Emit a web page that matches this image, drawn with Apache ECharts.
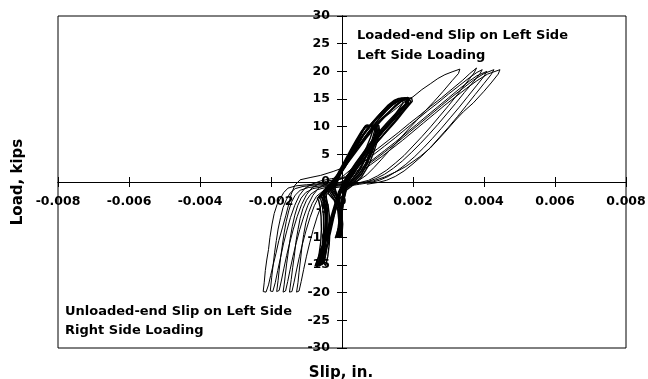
<!DOCTYPE html>
<html>
<head>
<meta charset="utf-8">
<script src="https://cdn.jsdelivr.net/npm/echarts@6/dist/echarts.min.js"></script>
<style>
  html, body { margin: 0; padding: 0; background: #fff; }
  #chart { width: 648px; height: 379px; }
</style>
</head>
<body>
<div id="chart"></div>
<script>
// x tick labels (slip, in.) and y ticks (load, kips)
const slipTicks = [-0.008, -0.006, -0.004, -0.002, 0, 0.002, 0.004, 0.006, 0.008];
const loadTicks = [-30, -25, -20, -15, -10, -5, 0, 5, 10, 15, 20, 25, 30];

// big cycles to +/-20 kips  [slip, load]
const cycleA = [
  [0.0002,-0.2],[-0.0002,-0.4],[-0.0006,-0.3],[-0.0010,-0.5],[-0.0013,-0.7],[-0.00152,-1.1],[-0.00164,-1.9],[-0.00172,-2.8],[-0.00183,-4.1],[-0.00191,-5.7],[-0.00197,-7.6],[-0.00203,-10.0],[-0.00207,-12.2],[-0.00212,-14.1],[-0.00216,-16.0],[-0.00219,-18.1],[-0.00222,-19.8],
  [-0.00214,-19.9],[-0.00207,-18.6],[-0.00201,-16.9],[-0.00194,-15.0],[-0.00186,-12.9],[-0.00178,-10.6],[-0.00168,-8.3],[-0.00158,-6.0],[-0.00150,-4.0],[-0.00143,-2.2],[-0.00133,-0.6],[-0.00118,0.4],[-0.00090,0.8],[-0.00060,1.2],[-0.00025,1.9],[0,2.5],
  [0.00012,3.6],[0.0003,4.9],[0.0005,6.6],[0.0007,8.3],[0.00095,10.1],[0.0012,11.7],[0.00145,12.9],[0.0017,14.2],[0.002,15.4],[0.00225,16.7],[0.0025,17.8],[0.0027,18.7],[0.0029,19.4],[0.0031,19.9],[0.00332,20.4],
  [0.00328,19.6],[0.0031,18.3],[0.00285,16.4],[0.0026,14.6],[0.00235,12.9],[0.0021,11.1],[0.00185,9.4],[0.0016,7.6],[0.00135,5.8],[0.0011,4.0],[0.0009,2.6],[0.0007,1.3],[0.0005,0.4],[0.0003,-0.1],[0.0001,-0.3]
];
const cycleB = [
  [0.0001,-0.3],[-0.0003,-0.5],[-0.0007,-0.5],[-0.0011,-0.8],[-0.00132,-1.2],[-0.00146,-2.0],[-0.00156,-3.1],[-0.00166,-4.6],[-0.00173,-6.4],[-0.0018,-8.5],[-0.00185,-10.6],[-0.0019,-12.8],[-0.00194,-15.0],[-0.00198,-17.2],[-0.00202,-19.7],
  [-0.00195,-19.8],[-0.00188,-18.2],[-0.00181,-16.0],[-0.00173,-13.6],[-0.00165,-11.2],[-0.00155,-8.7],[-0.00145,-6.4],[-0.00133,-4.2],[-0.0012,-2.4],[-0.00104,-1.1],[-0.00085,-0.4],[-0.0006,0.2],[-0.0003,0.6],[0,0.9],
  [0.0002,2.0],[0.0004,3.1],[0.0007,4.6],[0.001,6.0],[0.0013,7.5],[0.0016,9.0],[0.0019,10.6],[0.0022,12.1],[0.0025,13.7],[0.0028,15.2],[0.0031,16.8],[0.0034,18.4],[0.0036,19.6],[0.00379,20.6],
  [0.00372,19.7],[0.0035,17.9],[0.00325,15.8],[0.003,13.8],[0.00275,11.9],[0.0025,10.0],[0.00225,8.2],[0.002,6.5],[0.00175,4.8],[0.0015,3.4],[0.00125,2.1],[0.001,1.1],[0.00075,0.3],[0.0005,-0.1],[0.0002,-0.3]
];
const cycleC = [
  [0.0002,-0.3],[-0.0002,-0.6],[-0.0006,-0.7],[-0.00095,-1.0],[-0.00118,-1.5],[-0.00132,-2.4],[-0.00142,-3.6],[-0.0015,-5.2],[-0.00157,-7.1],[-0.00163,-9.2],[-0.00168,-11.4],[-0.00173,-13.7],[-0.00177,-15.9],[-0.0018,-17.8],[-0.00184,-19.8],
  [-0.00177,-19.6],[-0.00171,-17.9],[-0.00164,-15.7],[-0.00156,-13.3],[-0.00147,-10.9],[-0.00137,-8.5],[-0.00126,-6.2],[-0.00114,-4.1],[-0.001,-2.3],[-0.00084,-1.0],[-0.00064,-0.3],[-0.0004,0.2],[-0.0001,0.5],[0.0001,1.0],
  [0.0003,2.2],[0.0006,3.6],[0.0009,5.0],[0.0012,6.5],[0.0015,8.0],[0.0018,9.6],[0.0021,11.2],[0.0024,12.8],[0.0027,14.3],[0.003,15.9],[0.0033,17.4],[0.0036,18.9],[0.0038,19.8],[0.00395,20.3],
  [0.00388,19.5],[0.0037,18.1],[0.00345,16.2],[0.0032,14.2],[0.00295,12.3],[0.0027,10.4],[0.00245,8.6],[0.0022,6.9],[0.00195,5.3],[0.0017,3.8],[0.00145,2.5],[0.0012,1.4],[0.00095,0.6],[0.0007,0.0],[0.0004,-0.3]
];
const cycleD = [
  [0.0003,-0.4],[-0.0001,-0.6],[-0.0005,-0.8],[-0.00082,-1.2],[-0.00102,-1.9],[-0.00115,-2.9],[-0.00125,-4.3],[-0.00133,-6.0],[-0.0014,-8.0],[-0.00146,-10.2],[-0.00151,-12.5],[-0.00156,-14.8],[-0.0016,-17.0],[-0.00163,-18.6],[-0.00166,-19.9],
  [-0.00159,-19.7],[-0.00153,-18.0],[-0.00146,-15.8],[-0.00138,-13.4],[-0.00129,-11.0],[-0.00119,-8.6],[-0.00108,-6.3],[-0.00096,-4.2],[-0.00082,-2.4],[-0.00066,-1.1],[-0.00046,-0.3],[-0.0002,0.3],[0.0001,0.8],[0.0003,1.5],
  [0.0006,2.8],[0.0009,4.2],[0.0012,5.7],[0.0015,7.2],[0.0018,8.8],[0.0021,10.4],[0.0024,12.0],[0.0027,13.6],[0.003,15.2],[0.0033,16.8],[0.0036,18.3],[0.0038,19.2],[0.00408,20.0],
  [0.004,19.1],[0.0038,17.5],[0.00355,15.5],[0.0033,13.5],[0.00305,11.6],[0.0028,9.7],[0.00255,7.9],[0.0023,6.2],[0.00205,4.6],[0.0018,3.2],[0.00155,2.0],[0.0013,1.0],[0.00105,0.3],[0.0008,-0.1],[0.0005,-0.4]
];
const cycleE = [
  [0.0004,-0.4],[0.0,-0.7],[-0.0004,-0.9],[-0.0007,-1.4],[-0.00088,-2.2],[-0.001,-3.3],[-0.0011,-4.8],[-0.00118,-6.6],[-0.00124,-8.6],[-0.0013,-10.9],[-0.00134,-13.2],[-0.00139,-15.5],[-0.00143,-17.6],[-0.00146,-19.0],[-0.00148,-19.9],
  [-0.00141,-19.8],[-0.00135,-18.1],[-0.00128,-15.9],[-0.0012,-13.5],[-0.00111,-11.1],[-0.00101,-8.7],[-0.0009,-6.4],[-0.00078,-4.3],[-0.00064,-2.5],[-0.00048,-1.2],[-0.0003,-0.3],[-0.0001,0.4],[0.0002,1.0],[0.0004,1.7],
  [0.0007,3.0],[0.001,4.4],[0.0013,5.9],[0.0016,7.4],[0.0019,9.0],[0.0022,10.6],[0.0025,12.2],[0.0028,13.8],[0.0031,15.4],[0.0034,16.9],[0.0037,18.4],[0.004,19.6],[0.00428,20.3],
  [0.0042,19.4],[0.004,17.8],[0.00375,15.8],[0.0035,13.8],[0.00325,11.8],[0.003,9.9],[0.00275,8.1],[0.0025,6.3],[0.00225,4.7],[0.002,3.3],[0.00175,2.0],[0.0015,1.0],[0.00125,0.3],[0.001,-0.1],[0.0007,-0.4]
];
const cycleF = [
  [0.0005,-0.4],[0.0001,-0.8],[-0.0003,-1.1],[-0.00055,-1.7],[-0.00072,-2.6],[-0.00084,-3.9],[-0.00094,-5.5],[-0.00102,-7.4],[-0.00108,-9.5],[-0.00113,-11.8],[-0.00117,-14.1],[-0.00121,-16.3],[-0.00124,-18.2],[-0.00128,-19.9],
  [-0.00121,-19.7],[-0.00115,-18.0],[-0.00108,-15.8],[-0.001,-13.4],[-0.00091,-11.0],[-0.00081,-8.6],[-0.0007,-6.3],[-0.00058,-4.2],[-0.00044,-2.4],[-0.00028,-1.1],[-0.0001,-0.2],[0.0001,0.4],[0.0003,1.0],[0.0005,1.8],
  [0.0008,3.1],[0.0011,4.5],[0.0014,6.0],[0.0017,7.5],[0.002,9.1],[0.0023,10.7],[0.0026,12.3],[0.0029,13.9],[0.0032,15.4],[0.0035,16.9],[0.0038,18.3],[0.0041,19.5],[0.00445,20.3],
  [0.0044,19.5],[0.0042,17.9],[0.004,16.4],[0.0037,14.3],[0.00342,12.7],[0.0032,11.2],[0.0029,9.0],[0.0027,7.6],[0.00248,6.1],[0.0022,4.6],[0.002,3.7],[0.0018,2.8],[0.00154,1.9],[0.0012,0.9],[0.00088,0.2],[0.0005,-0.2],[0.0001,-0.4]
];

// cycles to +/-15 kips
const c15a = [
  [-0.0006,-2.6],[-0.0004,-1.1],[-0.0002,0.4],[0,2.0],[0.0002,4.3],[0.0004,6.2],[0.0006,8.5],[0.0008,10.0],[0.001,11.6],[0.0012,12.8],[0.0014,14.1],[0.0016,14.7],[0.00175,15.2],[0.0019,15.0],
  [0.00194,14.5],[0.0017,12.7],[0.0015,11.1],[0.00135,9.9],[0.00115,8.4],[0.00098,7.2],[0.0008,5.9],[0.0006,4.1],[0.0004,2.5],[0.0002,0.6],[0,-1.1],[-0.0001,-2.6],[-0.0002,-4.4],[-0.0003,-6.9],[-0.0004,-9.0],[-0.0005,-11.4],[-0.0006,-13.1],[-0.00068,-14.9],
  [-0.0006,-14.8],[-0.00055,-13.0],[-0.0005,-11.0],[-0.00047,-8.6],[-0.00047,-6.1],[-0.0005,-4.1],[-0.00056,-2.9],[-0.0006,-2.6]
];
const c15b = [
  [-0.00055,-2.4],[-0.00035,-0.8],[-0.00015,0.8],[0.00003,2.5],[0.00022,4.6],[0.00042,6.7],[0.0006,8.6],[0.00078,10.2],[0.00096,11.5],[0.00115,12.9],[0.0013,13.9],[0.00148,14.8],[0.0016,15.1],[0.00178,15.2],
  [0.00182,14.4],[0.0016,12.5],[0.0014,10.8],[0.00122,9.6],[0.00104,8.1],[0.00088,6.9],[0.0007,5.4],[0.00052,3.8],[0.00034,2.1],[0.00016,0.4],[-0.00002,-1.3],[-0.00012,-2.9],[-0.0002,-4.9],[-0.00028,-7.2],[-0.00036,-9.5],[-0.00044,-11.6],[-0.00052,-13.5],[-0.00058,-15.0],
  [-0.0005,-14.6],[-0.00045,-12.7],[-0.00041,-10.6],[-0.00039,-8.2],[-0.0004,-5.8],[-0.00044,-3.9],[-0.0005,-2.8],[-0.00055,-2.4]
];
const c15c = [
  [-0.00065,-2.8],[-0.00045,-1.3],[-0.00024,0.2],[-0.00004,1.8],[0.00016,4.0],[0.00036,6.0],[0.00056,8.2],[0.00076,9.8],[0.00096,11.3],[0.00118,12.7],[0.0014,13.9],[0.0016,14.6],[0.0018,15.1],[0.00196,15.2],
  [0.00198,14.6],[0.00176,12.9],[0.00156,11.3],[0.0014,10.1],[0.0012,8.7],[0.00102,7.5],[0.00084,6.1],[0.00064,4.4],[0.00044,2.7],[0.00024,0.9],[0.00004,-0.8],[-0.00008,-2.4],[-0.00019,-4.3],[-0.0003,-6.5],[-0.00042,-8.8],[-0.00054,-11.1],[-0.00064,-13.2],[-0.00074,-15.0],
  [-0.00066,-14.9],[-0.0006,-13.1],[-0.00055,-11.2],[-0.00052,-8.8],[-0.00052,-6.3],[-0.00055,-4.3],[-0.0006,-3.1],[-0.00065,-2.8]
];
const c15d = [
  [-0.0005,-2.2],[-0.0003,-0.7],[-0.0001,0.9],[0.00008,2.6],[0.00026,4.7],[0.00046,6.9],[0.00064,8.8],[0.00082,10.4],[0.001,11.8],[0.0012,13.1],[0.00138,14.2],[0.00155,14.9],[0.0017,15.2],
  [0.00172,14.3],[0.00152,12.4],[0.00132,10.6],[0.00114,9.3],[0.00096,7.9],[0.0008,6.6],[0.00062,5.0],[0.00044,3.3],[0.00026,1.6],[0.0001,-0.1],[-0.00004,-1.9],[-0.00013,-3.8],[-0.00022,-6.1],[-0.0003,-8.4],[-0.00038,-10.7],[-0.00046,-12.9],[-0.00052,-14.6],[-0.00046,-15.1],
  [-0.0004,-13.4],[-0.00036,-11.3],[-0.00034,-8.9],[-0.00035,-6.4],[-0.00039,-4.3],[-0.00045,-2.9],[-0.0005,-2.2]
];
const c15e = [
  [-0.0007,-3.0],[-0.0005,-1.5],[-0.0003,0.0],[-0.0001,1.6],[0.0001,3.6],[0.0003,5.7],[0.0005,7.8],[0.0007,9.6],[0.0009,11.1],[0.0011,12.5],[0.0013,13.7],[0.0015,14.5],[0.00168,15.0],[0.00186,15.3],
  [0.00188,14.2],[0.00166,12.4],[0.00146,10.7],[0.00128,9.5],[0.0011,8.0],[0.00092,6.7],[0.00074,5.2],[0.00056,3.6],[0.00038,2.0],[0.0002,0.3],[0.0,-1.4],[-0.00011,-3.1],[-0.00022,-5.1],[-0.00034,-7.4],[-0.00046,-9.8],[-0.00058,-12.0],[-0.00068,-13.9],[-0.00076,-15.2],
  [-0.0007,-14.7],[-0.00064,-12.8],[-0.0006,-10.9],[-0.00058,-8.5],[-0.00059,-6.2],[-0.00062,-4.4],[-0.00066,-3.3],[-0.0007,-3.0]
];
const c15f = [
  [-0.00058,-2.5],[-0.00038,-1.0],[-0.00018,0.5],[0.00002,2.2],[0.00024,4.1],[0.00046,6.0],[0.00068,7.9],[0.0009,9.6],[0.00112,11.2],[0.00132,12.6],[0.0015,13.8],[0.00166,14.6],[0.00184,15.1],
  [0.00186,14.3],[0.00166,12.9],[0.00146,11.5],[0.00128,10.2],[0.0011,8.9],[0.00092,7.6],[0.00074,6.1],[0.00056,4.6],[0.00038,3.0],[0.0002,1.3],[0.00004,-0.4],[-0.00008,-2.2],[-0.00018,-4.2],[-0.00029,-6.6],[-0.0004,-9.0],[-0.0005,-11.2],[-0.00059,-13.1],[-0.00066,-15.0],
  [-0.00058,-14.7],[-0.00052,-12.8],[-0.00047,-10.8],[-0.00044,-8.4],[-0.00045,-6.0],[-0.0005,-4.0],[-0.00055,-2.9],[-0.00058,-2.5]
];
const c15g = [
  [-0.00062,-2.7],[-0.00042,-1.2],[-0.00022,0.3],[-0.00002,1.9],[0.00018,3.9],[0.0004,5.9],[0.00062,7.9],[0.00084,9.8],[0.00104,11.4],[0.00124,12.8],[0.00144,14.0],[0.00162,14.8],[0.0018,15.2],
  [0.0019,14.8],[0.00174,13.4],[0.00154,11.8],[0.00134,10.4],[0.00116,9.1],[0.00098,7.8],[0.0008,6.3],[0.0006,4.6],[0.0004,2.9],[0.00022,1.1],[0.00006,-0.6],[-0.00006,-2.5],[-0.00016,-4.6],[-0.00027,-6.9],[-0.00038,-9.2],[-0.00049,-11.6],[-0.00058,-13.6],[-0.00062,-15.1],
  [-0.00054,-14.5],[-0.00049,-12.5],[-0.00044,-10.4],[-0.00042,-8.0],[-0.00043,-5.6],[-0.00048,-3.8],[-0.00055,-2.9],[-0.00062,-2.7]
];
const c15h = [
  [-0.00052,-2.3],[-0.00032,-0.8],[-0.00012,0.8],[0.00006,2.5],[0.00026,4.5],[0.00048,6.6],[0.00068,8.4],[0.00088,10.1],[0.00108,11.7],[0.00126,13.0],[0.00144,14.0],[0.0016,14.7],[0.00176,15.0],
  [0.0018,14.1],[0.00162,12.6],[0.00142,11.0],[0.00124,9.8],[0.00106,8.5],[0.00088,7.1],[0.0007,5.6],[0.00052,4.0],[0.00034,2.3],[0.00016,0.6],[0.0,-1.2],[-0.0001,-3.0],[-0.0002,-5.0],[-0.0003,-7.3],[-0.00041,-9.6],[-0.00052,-11.9],[-0.0006,-13.8],[-0.00066,-15.2],
  [-0.00058,-14.9],[-0.00052,-13.0],[-0.00048,-10.9],[-0.00046,-8.6],[-0.00046,-6.2],[-0.00049,-4.2],[-0.00052,-2.3]
];
const c15i = [
  [-0.0005,-2.4],[-0.0003,-0.6],[-0.0001,1.1],[0.0001,3.0],[0.0003,4.9],[0.0005,6.7],[0.0007,8.3],[0.0009,9.8],[0.0011,11.1],[0.0013,12.4],[0.0015,13.6],[0.00168,14.6],[0.00184,15.1],
  [0.0018,14.2],[0.00164,13.2],[0.00146,12.0],[0.00128,10.8],[0.0011,9.5],[0.00092,8.1],[0.00074,6.6],[0.00056,5.0],[0.00038,3.4],[0.0002,1.7],[0.00004,0.0],[-0.0001,-1.8],[-0.0002,-3.9],[-0.00032,-6.5],[-0.00044,-9.3],[-0.00055,-12.0],[-0.00064,-14.2],[-0.0007,-15.1],
  [-0.00062,-14.4],[-0.00056,-12.2],[-0.0005,-9.8],[-0.00047,-7.2],[-0.00047,-4.8],[-0.0005,-2.4]
];
const c15j = [
  [-0.00045,-2.0],[-0.00026,-0.3],[-0.00006,1.5],[0.00014,3.4],[0.00034,5.3],[0.00054,7.1],[0.00074,8.8],[0.00094,10.3],[0.00114,11.6],[0.00134,12.8],[0.00152,13.9],[0.0017,14.8],[0.00188,15.2],
  [0.00186,14.5],[0.0017,13.4],[0.00152,12.1],[0.00134,10.9],[0.00116,9.7],[0.00098,8.4],[0.0008,7.0],[0.00062,5.4],[0.00044,3.8],[0.00026,2.1],[0.0001,0.4],[-0.00005,-1.4],[-0.00016,-3.5],[-0.00027,-6.0],[-0.00038,-8.7],[-0.00049,-11.4],[-0.00058,-13.8],[-0.00064,-15.0],
  [-0.00056,-14.2],[-0.00051,-12.0],[-0.00046,-9.5],[-0.00043,-7.0],[-0.00042,-4.5],[-0.00045,-2.0]
];

// cycles to +/-10 kips
const c10a = [
  [-0.0003,-1.5],[-0.00015,0.5],[0,2.5],[0.00015,4.3],[0.0003,6.1],[0.00045,7.8],[0.0006,9.4],[0.00068,10.1],[0.00082,10.2],[0.00098,10.1],
  [0.001,9.2],[0.00095,7.8],[0.00085,5.8],[0.0007,3.2],[0.00052,1.2],[0.0003,-0.2],[0.0001,-1.2],[0.00002,-3.5],[-0.00003,-6.0],[-0.00008,-8.5],[-0.00012,-10.0],
  [-0.00005,-9.6],[-0.00003,-7.5],[-0.00007,-5.0],[-0.00015,-3.2],[-0.0003,-1.5]
];
const c10b = [
  [-0.00025,-1.2],[-0.0001,0.8],[0.00004,2.8],[0.00018,4.6],[0.00033,6.4],[0.00048,8.1],[0.00062,9.7],[0.0007,10.3],[0.00088,10.1],[0.00104,10.2],
  [0.00106,9.0],[0.001,7.5],[0.0009,5.5],[0.00075,3.0],[0.00056,1.0],[0.00034,-0.4],[0.00012,-1.5],[0.00003,-3.8],[-0.00002,-6.3],[-0.00006,-8.7],[-0.00009,-10.1],
  [-0.00002,-9.5],[0.0,-7.2],[-0.00004,-4.8],[-0.00012,-2.9],[-0.00025,-1.2]
];
const c10c = [
  [-0.00035,-1.8],[-0.0002,0.2],[-0.00004,2.2],[0.00012,4.1],[0.00027,5.9],[0.00042,7.6],[0.00056,9.1],[0.00065,9.9],[0.00078,10.2],[0.00094,10.0],
  [0.00096,9.1],[0.0009,7.6],[0.0008,5.6],[0.00066,3.3],[0.00048,1.4],[0.00026,0.0],[0.00006,-1.0],[-0.00001,-3.2],[-0.00006,-5.8],[-0.00011,-8.3],[-0.00016,-9.9],
  [-0.00009,-9.7],[-0.00006,-7.7],[-0.0001,-5.2],[-0.00019,-3.4],[-0.00035,-1.8]
];
const c10d = [
  [-0.0002,-1.0],[-0.00006,1.1],[0.00008,3.0],[0.00022,4.8],[0.00036,6.6],[0.0005,8.3],[0.00064,9.9],[0.00074,10.1],[0.0009,10.3],
  [0.00092,9.3],[0.00086,7.9],[0.00076,6.0],[0.00062,3.6],[0.00045,1.6],[0.00024,0.2],[0.00006,-0.9],[0.0,-3.0],[-0.00004,-5.6],[-0.00009,-8.1],[-0.00014,-9.8],
  [-0.00007,-10.0],[-0.00004,-7.9],[-0.00006,-5.3],[-0.00012,-3.0],[-0.0002,-1.0]
];
const c10e = [
  [-0.0004,-2.0],[-0.00024,0.0],[-0.00008,2.0],[0.00008,3.9],[0.00024,5.8],[0.0004,7.6],[0.00054,9.1],[0.00064,10.0],[0.0008,10.1],[0.00096,10.3],
  [0.00098,9.3],[0.00092,7.7],[0.00082,5.7],[0.00068,3.4],[0.0005,1.5],[0.00028,0.1],[0.00008,-1.1],[0.0,-3.4],[-0.00005,-6.0],[-0.0001,-8.4],[-0.00019,-10.1],
  [-0.00011,-9.8],[-0.00008,-7.6],[-0.00012,-5.1],[-0.00022,-3.3],[-0.0004,-2.0]
];
const c10f = [
  [-0.00028,-1.4],[-0.00013,0.6],[0.00002,2.6],[0.00017,4.4],[0.00031,6.2],[0.00046,7.9],[0.0006,9.5],[0.00066,10.2],[0.00084,10.0],[0.001,10.3],
  [0.00103,9.4],[0.00097,7.9],[0.00088,5.9],[0.00072,3.5],[0.00054,1.3],[0.00032,-0.1],[0.00011,-1.3],[0.00004,-3.6],[-0.00001,-6.2],[-0.00005,-8.6],[-0.00007,-10.0],
  [0.0,-9.7],[0.00002,-7.6],[-0.00002,-5.0],[-0.0001,-3.1],[-0.00028,-1.4]
];
const c10g = [
  [-0.00032,-1.6],[-0.00017,0.4],[-0.00002,2.3],[0.00013,4.1],[0.00028,5.9],[0.00043,7.6],[0.00057,9.1],[0.00066,10.0],[0.0008,10.2],
  [0.00088,9.6],[0.0008,8.0],[0.0007,6.4],[0.00058,4.6],[0.00044,2.8],[0.00028,1.0],[0.00012,-0.6],[0.00003,-2.6],[-0.00002,-5.2],[-0.00007,-7.8],[-0.00012,-9.7],
  [-0.00006,-9.6],[-0.00004,-7.4],[-0.00008,-4.9],[-0.00017,-3.1],[-0.00032,-1.6]
];
const c10h = [
  [-0.00022,-1.1],[-0.00008,0.9],[0.00007,2.9],[0.00021,4.7],[0.00035,6.5],[0.0005,8.2],[0.00062,9.6],[0.00072,10.2],[0.00092,10.1],
  [0.00094,9.0],[0.00086,7.3],[0.00075,5.5],[0.00062,3.8],[0.00047,2.2],[0.0003,0.6],[0.00014,-0.8],[0.00005,-2.8],[0.0,-5.4],[-0.00004,-7.9],[-0.0001,-9.9],
  [-0.00003,-9.8],[-0.00001,-7.6],[-0.00004,-5.0],[-0.00011,-2.8],[-0.00022,-1.1]
];

const smallLoops = [c10a, c10b, c10c, c10d, c10e, c10f, c10g, c10h,
                    c15a, c15b, c15c, c15d, c15e, c15f, c15g, c15h, c15i, c15j];
const bigLoops = [cycleA, cycleB, cycleC, cycleD, cycleE, cycleF];

const chart = echarts.init(document.getElementById('chart'));

const tickFont = { color: '#000', fontFamily: 'DejaVu Sans', fontWeight: 'bold', fontSize: 12.5 };
const black = { color: '#000', width: 1 };

const slipFmt = v => (Math.abs(v) < 1e-9 ? '0' : v.toFixed(3));

const lineSeries = (d, w) => ({
    type: 'line',
    data: d,
    showSymbol: false,
    silent: true,
    lineStyle: { color: '#000', width: w },
    z: 3
});

// grid is 568 x 332; axes are pulled to the middle (zero) with offsets
const option = {
    animation: false,
    grid: {
        left: 58, top: 16, width: 568, height: 332,
        show: true, borderColor: '#000', borderWidth: 1,
        outerBoundsMode: 'none'
    },
    xAxis: [
        {
            type: 'value', position: 'bottom', offset: -166,
            min: slipTicks[0], max: slipTicks[slipTicks.length - 1], interval: 0.002,
            axisLine: { onZero: false, lineStyle: black },
            axisTick: { length: 5, lineStyle: black },
            axisLabel: { ...tickFont, margin: 13, formatter: slipFmt, showMinLabel: true, showMaxLabel: true },
            splitLine: { show: false }
        },
        {
            // upper half of the crossing ticks
            type: 'value', position: 'top', offset: -166,
            min: slipTicks[0], max: slipTicks[slipTicks.length - 1], interval: 0.002,
            axisLine: { onZero: false, lineStyle: black },
            axisTick: { length: 5, lineStyle: black },
            axisLabel: { show: false },
            splitLine: { show: false }
        }
    ],
    yAxis: [
        {
            type: 'value', position: 'left', offset: -284,
            min: loadTicks[0], max: loadTicks[loadTicks.length - 1], interval: 5,
            axisLine: { onZero: false, lineStyle: black },
            axisTick: { length: 5, lineStyle: black },
            axisLabel: { ...tickFont, margin: 12, showMinLabel: true, showMaxLabel: true },
            splitLine: { show: false }
        },
        {
            // right half of the crossing ticks
            type: 'value', position: 'right', offset: -284,
            min: loadTicks[0], max: loadTicks[loadTicks.length - 1], interval: 5,
            axisLine: { onZero: false, lineStyle: black },
            axisTick: { length: 5, lineStyle: black },
            axisLabel: { show: false },
            splitLine: { show: false }
        }
    ],
    series: [
        ...smallLoops.map(d => lineSeries(d, 1.4)),
        ...bigLoops.map(d => lineSeries(d, 1))
    ],
    graphic: [
        { type: 'text', x: 18, y: 182, rotation: Math.PI / 2,
          style: { text: 'Load, kips', font: 'bold 15px "DejaVu Sans"', fill: '#000', textAlign: 'center', textVerticalAlign: 'middle' } },
        { type: 'text', x: 341, y: 373,
          style: { text: 'Slip, in.', font: 'bold 15px "DejaVu Sans"', fill: '#000', textAlign: 'center', textVerticalAlign: 'middle' } },
        { type: 'text', x: 357, y: 36,
          style: { text: 'Loaded-end Slip on Left Side', font: 'bold 13px "DejaVu Sans"', fill: '#000', textAlign: 'left', textVerticalAlign: 'middle' } },
        { type: 'text', x: 357, y: 56,
          style: { text: 'Left Side Loading', font: 'bold 13px "DejaVu Sans"', fill: '#000', textAlign: 'left', textVerticalAlign: 'middle' } },
        { type: 'text', x: 65, y: 312,
          style: { text: 'Unloaded-end Slip on Left Side', font: 'bold 13px "DejaVu Sans"', fill: '#000', textAlign: 'left', textVerticalAlign: 'middle' } },
        { type: 'text', x: 65, y: 331,
          style: { text: 'Right Side Loading', font: 'bold 13px "DejaVu Sans"', fill: '#000', textAlign: 'left', textVerticalAlign: 'middle' } }
    ]
};

chart.setOption(option);
window.addEventListener('resize', () => chart.resize());
</script>
</body>
</html>
